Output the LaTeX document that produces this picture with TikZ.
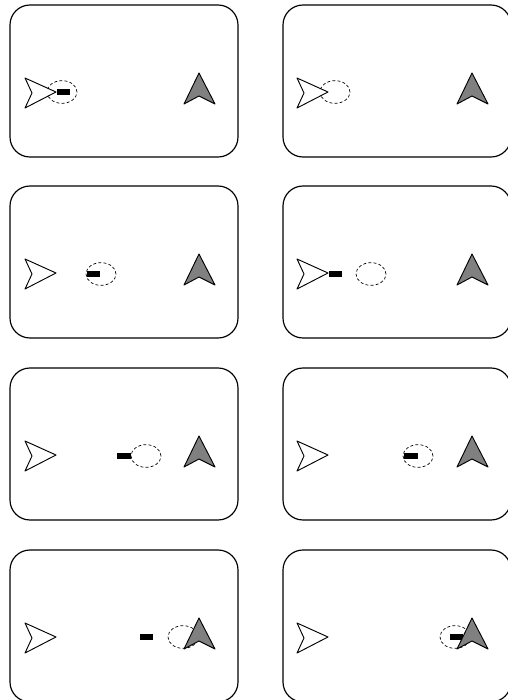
\documentclass[tikz,border=0pt]{standalone}
\begin{document}
\begin{tikzpicture}[x=0.03cm,y=-0.03cm,line cap=round,line join=round,
  panel/.style={line width=1pt,rounded corners=6mm},
  ghost/.style={line width=0.6pt,dash pattern=on 2.2pt off 2.2pt},
  dart/.style={line width=0.8pt,fill=white},
  pointer/.style={line width=0.8pt,fill=gray},
  bar/.style={fill=black}]
  \useasboundingbox (0,0) rectangle (508,700);
  \clip (0,0) rectangle (508,700);
  % row 1
  \begin{scope}[shift={(10,5)}]
    \draw[panel] (0,0) rectangle (228,152);
    \draw[ghost] (52,87) ellipse [x radius=4.5mm,y radius=3.4mm];
    \draw[dart] (15,73) -- (46,87) -- (15,103) -- (22,88) -- cycle;
    \fill[bar] (47,84) rectangle (60,90);
    \draw[pointer] (189,68) -- (205,99) -- (189,91) -- (174,99) -- cycle;
  \end{scope}
  \begin{scope}[shift={(283,5)}]
    \draw[panel] (0,0) rectangle (228,152);
    \draw[ghost] (52,87) ellipse [x radius=4.5mm,y radius=3.4mm];
    \draw[dart] (14,73) -- (45,87) -- (14,103) -- (21,88) -- cycle;
    \draw[pointer] (189,68) -- (205,99) -- (189,91) -- (174,99) -- cycle;
  \end{scope}
  % row 2
  \begin{scope}[shift={(10,186)}]
    \draw[panel] (0,0) rectangle (228,152);
    \draw[ghost] (91,88) ellipse [x radius=4.5mm,y radius=3.4mm];
    \draw[dart] (15,73) -- (46,87) -- (15,103) -- (22,88) -- cycle;
    \fill[bar] (77,85) rectangle (90,91);
    \draw[pointer] (189,68) -- (205,99) -- (189,91) -- (174,99) -- cycle;
  \end{scope}
  \begin{scope}[shift={(283,186)}]
    \draw[panel] (0,0) rectangle (228,152);
    \draw[ghost] (88,88) ellipse [x radius=4.5mm,y radius=3.4mm];
    \draw[dart] (14,73) -- (45,87) -- (14,103) -- (21,88) -- cycle;
    \fill[bar] (46,85) rectangle (59,91);
    \draw[pointer] (189,68) -- (205,99) -- (189,91) -- (174,99) -- cycle;
  \end{scope}
  % row 3
  \begin{scope}[shift={(10,368)}]
    \draw[panel] (0,0) rectangle (228,152);
    \draw[ghost] (136,88) ellipse [x radius=4.5mm,y radius=3.4mm];
    \draw[dart] (15,73) -- (46,87) -- (15,103) -- (22,88) -- cycle;
    \fill[bar] (107,85) rectangle (121,91);
    \draw[pointer] (189,68) -- (205,99) -- (189,91) -- (174,99) -- cycle;
  \end{scope}
  \begin{scope}[shift={(283,368)}]
    \draw[panel] (0,0) rectangle (228,152);
    \draw[ghost] (135,88) ellipse [x radius=4.5mm,y radius=3.4mm];
    \draw[dart] (14,73) -- (45,87) -- (14,103) -- (21,88) -- cycle;
    \fill[bar] (121,85) rectangle (135,91);
    \draw[pointer] (189,68) -- (205,99) -- (189,91) -- (174,99) -- cycle;
  \end{scope}
  % row 4
  \begin{scope}[shift={(10,550)}]
    \draw[panel] (0,0) rectangle (228,152);
    \draw[ghost] (173,87) ellipse [x radius=4.5mm,y radius=3.4mm];
    \draw[dart] (15,73) -- (46,87) -- (15,103) -- (22,88) -- cycle;
    \fill[bar] (130,84) rectangle (143,90);
    \draw[pointer] (189,68) -- (205,99) -- (189,91) -- (174,99) -- cycle;
  \end{scope}
  \begin{scope}[shift={(283,550)}]
    \draw[panel] (0,0) rectangle (228,152);
    \draw[ghost] (172,87) ellipse [x radius=4.5mm,y radius=3.4mm];
    \draw[dart] (14,73) -- (45,87) -- (14,103) -- (21,88) -- cycle;
    \fill[bar] (167,84) rectangle (180,90);
    \draw[pointer] (189,68) -- (205,99) -- (189,91) -- (174,99) -- cycle;
  \end{scope}
\end{tikzpicture}
\end{document}
